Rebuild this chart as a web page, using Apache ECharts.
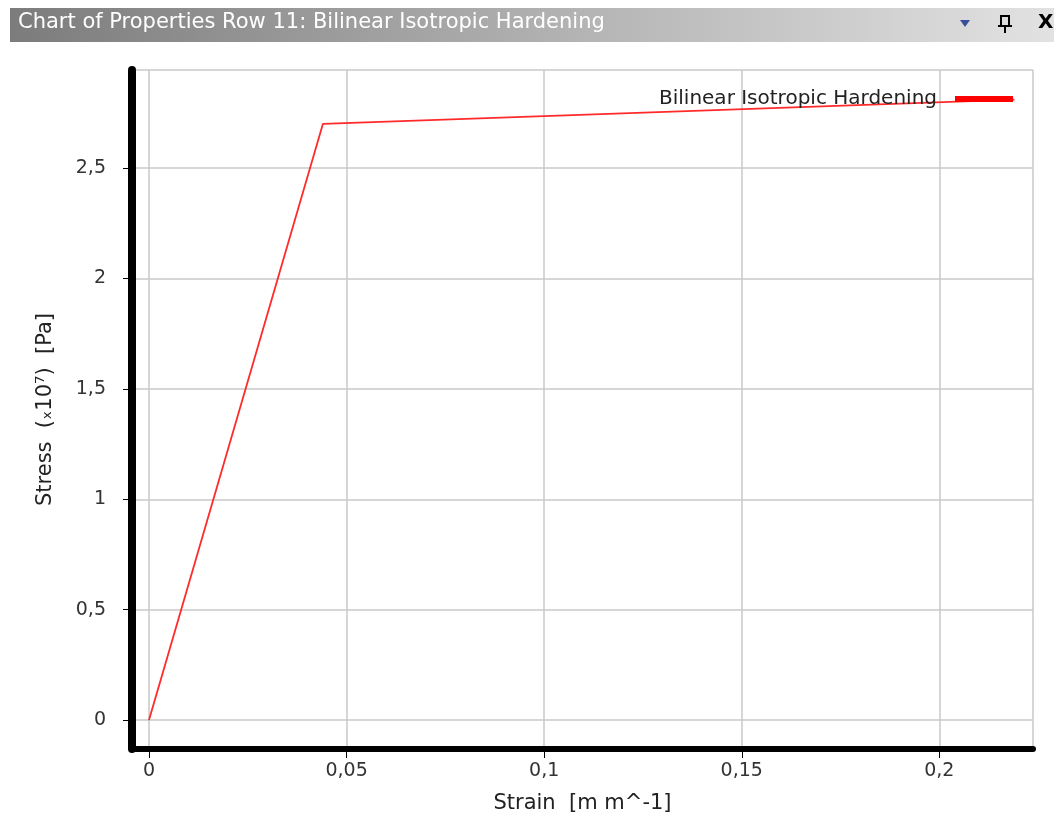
<!DOCTYPE html>
<html>
<head>
<meta charset="utf-8">
<script src="https://cdn.jsdelivr.net/npm/echarts@6/dist/echarts.min.js"></script>
<style>
  html, body { margin: 0; padding: 0; background: #fff; }
  #chart { width: 1054px; height: 835px; }
</style>
</head>
<body>
<div id="chart"></div>
<script>
  // stress-strain points (strain, stress x10^7)
  const seriesName = 'Bilinear Isotropic Hardening'
  const strain = [0, 0.044, 0.219]
  const stress = [0, 2.70, 2.81]
  const xRange = [-0.0043, 0.2237]
  const yRange = [-0.131, 2.944]

  const font = 'DejaVu Sans'
  const comma = function (v) {
    return String(v).replace('.', ',')
  }

  let chart = echarts.init(document.getElementById('chart'))
  let option = {
    animation: false,
    textStyle: { fontFamily: font },
    graphic: [
      {
        type: 'rect',
        shape: { x: 10, y: 8, width: 1044, height: 34 },
        style: {
          fill: {
            type: 'linear', x: 0, y: 0, x2: 1, y2: 0,
            colorStops: [
              { offset: 0, color: '#7c7c7c' },
              { offset: 1, color: '#e2e2e2' }
            ]
          }
        }
      },
      {
        type: 'text',
        left: 18, top: 12,
        style: {
          text: 'Chart of Properties Row 11: Bilinear Isotropic Hardening',
          fill: '#fff',
          font: '21px "DejaVu Sans", sans-serif'
        }
      },
      {
        type: 'polygon',
        shape: { points: [[960, 20], [970, 20], [965, 27]] },
        style: { fill: '#3a4f9a' }
      },
      // pin icon
      {
        type: 'rect',
        shape: { x: 1001, y: 16, width: 8, height: 10 },
        style: { fill: 'none', stroke: '#000', lineWidth: 2 }
      },
      {
        type: 'line',
        shape: { x1: 998, y1: 26, x2: 1012, y2: 26 },
        style: { stroke: '#000', lineWidth: 2 }
      },
      {
        type: 'line',
        shape: { x1: 1005, y1: 26, x2: 1005, y2: 33 },
        style: { stroke: '#000', lineWidth: 2 }
      },
      {
        type: 'text',
        left: 1038, top: 13,
        style: { text: 'X', fill: '#000', font: 'bold 20px "DejaVu Sans"' }
      }
    ],
    legend: {
      right: 36,
      top: 84,
      align: 'right',
      icon: 'rect',
      itemWidth: 58,
      itemHeight: 6,
      itemGap: 0,
      textStyle: { fontFamily: font, fontSize: 20, color: '#222', padding: [0, 13, 0, 0] },
      data: [seriesName]
    },
    grid: {
      left: 132,
      right: 21,
      top: 70,
      bottom: 86
    },
    xAxis: {
      type: 'value',
      min: xRange[0],
      max: xRange[1],
      splitNumber: 5,
      name: 'Strain  [m m^-1]',
      nameLocation: 'middle',
      nameGap: 44,
      nameTextStyle: { fontFamily: font, fontSize: 21, color: '#222' },
      axisLine: { onZero: false, lineStyle: { color: '#000', width: 6 } },
      axisTick: { length: 9, lineStyle: { color: '#000' } },
      axisLabel: {
        margin: 13,
        fontFamily: font,
        fontSize: 19,
        color: '#333',
        showMinLabel: false,
        showMaxLabel: false,
        formatter: comma
      },
      splitLine: { show: true, lineStyle: { color: '#c8c8c8', width: 1.5 } }
    },
    yAxis: {
      type: 'value',
      min: yRange[0],
      max: yRange[1],
      splitNumber: 6,
      name: 'Stress  (ₓ10⁷)  [Pa]',
      nameLocation: 'middle',
      nameGap: 76,
      nameTextStyle: { fontFamily: font, fontSize: 21, color: '#222' },
      axisLine: { show: true, onZero: false, lineStyle: { color: '#000', width: 8 } },
      axisTick: { show: true, length: 9, lineStyle: { color: '#000' } },
      axisLabel: {
        margin: 26,
        fontFamily: font,
        fontSize: 19,
        color: '#333',
        showMinLabel: false,
        showMaxLabel: false,
        formatter: comma
      },
      splitLine: { show: true, lineStyle: { color: '#c8c8c8', width: 1.5 } }
    },
    series: [
      {
        name: seriesName,
        type: 'line',
        data: strain.map(function (x, i) { return [x, stress[i]] }),
        showSymbol: false,
        color: '#ff0000',
        lineStyle: { color: '#ff2a2a', width: 1.8 }
      }
    ]
  }
  chart.setOption(option)
</script>
</body>
</html>
